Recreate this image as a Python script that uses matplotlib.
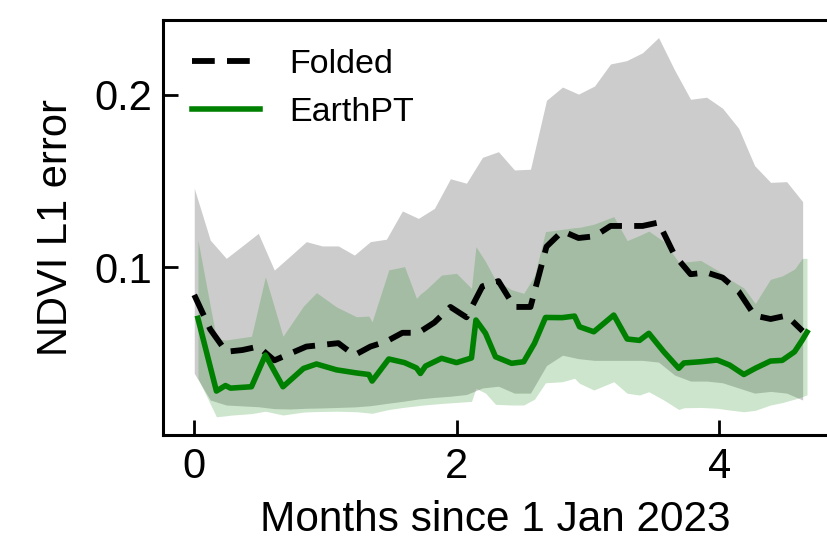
import numpy as np
import matplotlib
matplotlib.use("Agg")
import matplotlib.pyplot as plt

plt.rcParams['font.family'] = ['Liberation Sans', 'DejaVu Sans']

# Folded baseline: regular grid (months since 1 Jan 2023)
folded_months = np.linspace(0.0, 4.635, 39)
folded_mean = [0.084, 0.064, 0.051, 0.052, 0.054, 0.046, 0.050, 0.054, 0.055, 0.056,
               0.049, 0.054, 0.057, 0.062, 0.062, 0.068, 0.077, 0.071, 0.089, 0.092,
               0.077, 0.077, 0.112, 0.121, 0.117, 0.118, 0.124, 0.124, 0.124, 0.126,
               0.107, 0.096, 0.097, 0.094, 0.086, 0.072, 0.070, 0.072, 0.063]
folded_upper = [0.1459, 0.1158, 0.1052, 0.1124, 0.1197, 0.0984, 0.1066, 0.1149, 0.1124, 0.1124,
                0.1071, 0.1149, 0.1163, 0.1327, 0.1284, 0.1342, 0.1514, 0.1488, 0.1638, 0.1671,
                0.1565, 0.1569, 0.1969, 0.2046, 0.2005, 0.2052, 0.2180, 0.2199, 0.2245, 0.2333,
                0.2145, 0.1975, 0.1987, 0.1923, 0.1807, 0.1590, 0.1493, 0.1497, 0.1381]
folded_lower = [0.0385, 0.0230, 0.0201, 0.0196, 0.0191, 0.0180, 0.0178, 0.0182, 0.0184, 0.0187,
                0.0190, 0.0197, 0.0210, 0.0222, 0.0236, 0.0245, 0.0252, 0.0262, 0.0300, 0.0310,
                0.0270, 0.0270, 0.0430, 0.0490, 0.0470, 0.0460, 0.0460, 0.0460, 0.0460, 0.0450,
                0.0375, 0.0340, 0.0340, 0.0330, 0.0300, 0.0270, 0.0280, 0.0270, 0.0230]

# EarthPT: irregular observation dates
earthpt_months = [0.028, 0.169, 0.238, 0.276, 0.436, 0.542, 0.676, 0.832, 0.931, 1.084,
                  1.236, 1.330, 1.355, 1.482, 1.602, 1.693, 1.723, 1.762, 1.884, 1.998,
                  2.112, 2.146, 2.219, 2.295, 2.417, 2.510, 2.592, 2.676, 2.803, 2.897,
                  2.935, 3.044, 3.196, 3.298, 3.392, 3.463, 3.577, 3.691, 3.730, 3.857,
                  3.984, 4.078, 4.187, 4.274, 4.389, 4.479, 4.573, 4.632, 4.668]
earthpt_mean = [0.0704, 0.0282, 0.0314, 0.0299, 0.0307, 0.0491, 0.0307, 0.0413, 0.0439, 0.0405,
                0.0387, 0.0378, 0.0340, 0.0468, 0.0447, 0.0416, 0.0384, 0.0427, 0.0472, 0.0447,
                0.0474, 0.0694, 0.0617, 0.0481, 0.0443, 0.0452, 0.0559, 0.0709, 0.0708, 0.0717,
                0.0655, 0.0626, 0.0723, 0.0584, 0.0576, 0.0617, 0.0510, 0.0414, 0.0445, 0.0452,
                0.0462, 0.0433, 0.0378, 0.0414, 0.0456, 0.0460, 0.0510, 0.0578, 0.0624]
earthpt_upper = [0.1158, 0.0585, 0.0578, 0.0582, 0.0600, 0.0945, 0.0600, 0.0775, 0.0853, 0.0770,
                 0.0713, 0.0717, 0.0684, 0.0985, 0.1004, 0.0820, 0.0845, 0.0868, 0.0955, 0.0965,
                 0.0878, 0.1120, 0.1033, 0.0926, 0.0870, 0.0849, 0.0950, 0.1207, 0.1220, 0.1230,
                 0.1232, 0.1250, 0.1294, 0.1155, 0.1185, 0.1210, 0.1150, 0.1030, 0.1030, 0.1040,
                 0.0984, 0.0930, 0.0880, 0.0790, 0.0930, 0.0950, 0.0990, 0.1052, 0.1052]
earthpt_lower = [0.0356, 0.0133, 0.0138, 0.0142, 0.0151, 0.0165, 0.0143, 0.0160, 0.0163, 0.0165,
                 0.0162, 0.0155, 0.0153, 0.0175, 0.0188, 0.0196, 0.0199, 0.0202, 0.0210, 0.0216,
                 0.0222, 0.0298, 0.0270, 0.0205, 0.0201, 0.0201, 0.0235, 0.0330, 0.0336, 0.0356,
                 0.0327, 0.0288, 0.0336, 0.0269, 0.0259, 0.0278, 0.0230, 0.0175, 0.0185, 0.0187,
                 0.0182, 0.0172, 0.0162, 0.0170, 0.0201, 0.0215, 0.0235, 0.0249, 0.0260]

x_ticks = [0, 2, 4]
y_ticks = [0.1, 0.2]

fig = plt.figure(figsize=(8.28, 5.44), dpi=100)
ax = fig.add_axes([163/828, 109/544, 1 - 163/828, (435 - 20)/544])

ax.fill_between(folded_months, folded_lower, folded_upper, color='k', alpha=0.2, lw=0)
ax.fill_between(earthpt_months, earthpt_lower, earthpt_upper, color='green', alpha=0.2, lw=0)
ax.plot(folded_months, folded_mean, color='k', lw=4.2, ls=(0, (3.9, 2.1)), label='Folded')
ax.plot(earthpt_months, earthpt_mean, color='green', lw=4.0, label='EarthPT')

ax.set_xlim(-0.238, 4.828)
ax.set_ylim(0.0027, 0.2435)
ax.set_xticks(x_ticks)
ax.set_yticks(y_ticks)
ax.set_xticklabels([str(t) for t in x_ticks])
ax.set_yticklabels([str(t) for t in y_ticks])

for s in ['left', 'bottom', 'top']:
    ax.spines[s].set_linewidth(2.2)
ax.spines['right'].set_visible(False)
ax.tick_params(direction='in', length=10.5, width=2.0, labelsize=30)
ax.tick_params(axis='y', pad=8)
ax.tick_params(axis='x', pad=9)

ax.set_xlabel('Months since 1 Jan 2023', fontsize=30.5, labelpad=9)
ax.set_ylabel('NDVI L1 error', fontsize=30, labelpad=13)

ax.legend(loc='upper left', frameon=False, fontsize=24.5, handlelength=2.0,
          handletextpad=0.85, labelspacing=0.5, borderaxespad=0.45, borderpad=0.4)

fig.savefig('out.png', dpi=100)
